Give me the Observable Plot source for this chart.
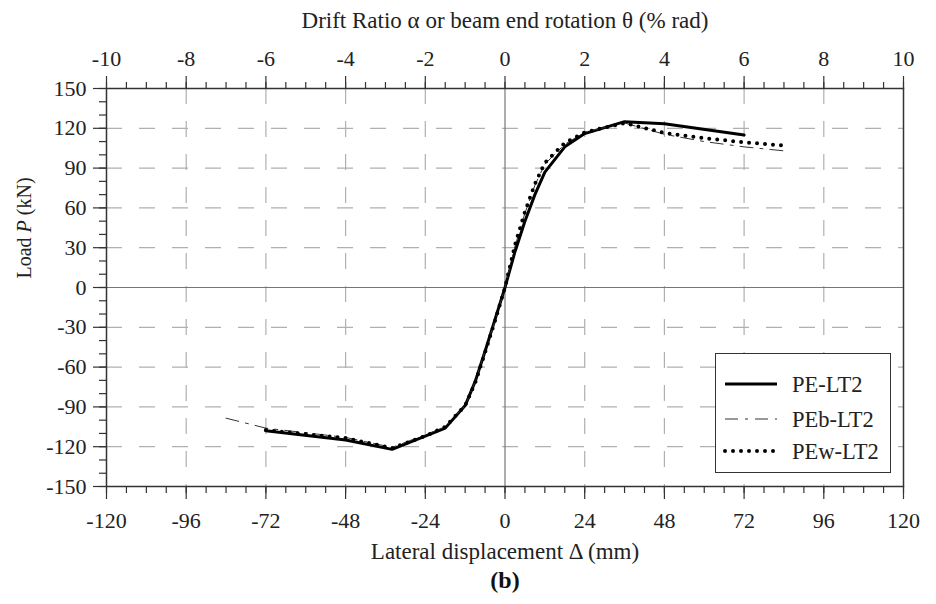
<!DOCTYPE html>
<html><head><meta charset="utf-8">
<script src="https://cdn.jsdelivr.net/npm/d3@7"></script>
<script src="https://cdn.jsdelivr.net/npm/@observablehq/plot@0.6"></script>
<style>
body{margin:0;background:#fff;}
#wrap{position:relative;width:936px;height:604px;}
#legend{position:absolute;left:715px;top:353px;width:176px;height:120px;box-sizing:border-box;border:1.5px solid #333;background:#fff;}
#legend svg{display:block;}
</style></head><body>
<div id="wrap"><div id="chart"></div><div id="legend"></div></div>
<script>
// ---- tick values and labels ----
const xTicks = [-120, -96, -72, -48, -24, 0, 24, 48, 72, 96, 120];
const xTickLabels = ["-120", "-96", "-72", "-48", "-24", "0", "24", "48", "72", "96", "120"];
const driftTickLabels = ["-10", "-8", "-6", "-4", "-2", "0", "2", "4", "6", "8", "10"];
const xMinorTicks = d3.range(-120, 121, 6);
const yTicks = [-150, -120, -90, -60, -30, 0, 30, 60, 90, 120, 150];
const yTickLabels = ["-150", "-120", "-90", "-60", "-30", "0", "30", "60", "90", "120", "150"];
const yMinorTicks = d3.range(-150, 151, 10);

// ---- series ----
const seriesNames = ["PE-LT2", "PEb-LT2", "PEw-LT2"];
const dispPE = [-72, -48, -34, -18, -12, -9, -6, -3, 0, 3, 6, 9, 12, 18, 24, 36, 48, 72];
const loadPE = [-108, -115, -122, -106, -89, -71, -48, -24, 0, 27, 50, 70, 87, 106, 116, 125, 123.5, 115];
const dispPEb = [-84, -72, -48, -34, -24, -18, -12, -9, -6, -3, 0, 3, 6, 9, 12, 18, 24, 36, 48, 60, 72, 84];
const loadPEb = [-98.5, -106, -113, -120.5, -111, -105, -89, -71, -48, -25, 0, 31, 56, 77, 93, 108, 117, 124, 115.5, 110, 106, 103];
const dispPEw = [-72, -48, -34, -24, -18, -12, -9, -6, -3, 0, 3, 6, 9, 12, 18, 24, 36, 48, 60, 72, 84];
const loadPEw = [-107.5, -113.5, -121, -112, -105, -89, -72, -49, -25, 0, 32, 57, 78, 94, 109, 117, 124, 116.5, 112.5, 109.5, 107];

const toRows = (name, xs, ys) => xs.map((d, i) => ({series: name, disp: d, load: ys[i]}));
const rowsPE = toRows(seriesNames[0], dispPE, loadPE);
const rowsPEb = toRows(seriesNames[1], dispPEb, loadPEb);
const rowsPEw = toRows(seriesNames[2], dispPEw, loadPEw);

const xGrid = xTicks.filter(d => d !== 0 && Math.abs(d) !== 120);
const yGrid = yTicks.filter(d => d !== 0 && Math.abs(d) !== 150);
const fmtX = d => xTickLabels[xTicks.indexOf(d)];
const fmtDrift = d => driftTickLabels[xTicks.indexOf(d)];
const fmtY = d => yTickLabels[yTicks.indexOf(d)];

const textColor = "#222";
const axisColor = "#333";

const chart = Plot.plot({
  width: 936,
  height: 604,
  marginLeft: 106,
  marginRight: 33,
  marginTop: 88,
  marginBottom: 118,
  style: {fontFamily: "'Liberation Serif', 'Times New Roman', serif", fontSize: "22px", color: textColor, background: "#fff"},
  x: {domain: [-120, 120], label: null},
  y: {domain: [-150, 150], label: null},
  marks: [
    Plot.gridX(xGrid, {stroke: "#b0b0b0", strokeOpacity: 1, strokeWidth: 1.2, strokeDasharray: "16,17"}),
    Plot.gridY(yGrid, {stroke: "#b0b0b0", strokeOpacity: 1, strokeWidth: 1.2, strokeDasharray: "16,17"}),
    Plot.ruleX([0], {stroke: "#777", strokeWidth: 1.2}),
    Plot.ruleY([0], {stroke: "#777", strokeWidth: 1.2}),
    Plot.line(rowsPE, {x: "disp", y: "load", stroke: "#000", strokeWidth: 3, strokeLinejoin: "round"}),
    Plot.line(rowsPEb, {x: "disp", y: "load", stroke: "#333", strokeWidth: 1, strokeDasharray: "13,7,3,7"}),
    Plot.line(rowsPEw, {x: "disp", y: "load", stroke: "#000", strokeWidth: 4, strokeDasharray: "0,8", strokeLinecap: "round"}),
    Plot.frame({stroke: axisColor, strokeWidth: 1.5}),
    // bottom axis
    Plot.axisX(xMinorTicks, {anchor: "bottom", tickSize: 7, fill: "none", stroke: axisColor, strokeWidth: 1.2, label: null}),
    Plot.axisX(xTicks, {anchor: "bottom", tickSize: 13, tickPadding: 13, tickFormat: fmtX, fill: textColor, stroke: axisColor, strokeWidth: 1.2, label: null}),
    // top axis (drift ratio)
    Plot.axisX(xMinorTicks, {anchor: "top", tickSize: 7, fill: "none", stroke: axisColor, strokeWidth: 1.2, label: null}),
    Plot.axisX(xTicks, {anchor: "top", tickSize: 13, tickPadding: 10, tickFormat: fmtDrift, fill: textColor, stroke: axisColor, strokeWidth: 1.2, label: null}),
    // left axis
    Plot.axisY(yMinorTicks, {anchor: "left", tickSize: 7, fill: "none", stroke: axisColor, strokeWidth: 1.2, label: null}),
    Plot.axisY(yTicks, {anchor: "left", tickSize: 13, tickPadding: 7, tickFormat: fmtY, fill: textColor, stroke: axisColor, strokeWidth: 1.2, label: null}),
    // titles
    Plot.text(["Drift Ratio α or beam end rotation θ (% rad)"], {frameAnchor: "top", lineAnchor: "bottom", dy: -61, fontSize: 23, fill: textColor}),
    Plot.text(["Lateral displacement Δ (mm)"], {frameAnchor: "bottom", lineAnchor: "bottom", dy: 72, fontSize: 23, fill: textColor}),
    Plot.text(["(b)"], {frameAnchor: "bottom", lineAnchor: "bottom", dy: 101, fontSize: 24, fontWeight: "bold", fill: "#111"}),
    Plot.text(["Load P (kN)"], {frameAnchor: "left", lineAnchor: "bottom", rotate: -90, dx: -76, dy: -9, fontSize: 20, fill: textColor})
  ]
});
document.getElementById("chart").appendChild(chart);

// italic P in the y label
chart.querySelectorAll("text").forEach(t => {
  if (t.textContent === "Load P (kN)") {
    t.innerHTML = 'Load <tspan font-style="italic">P</tspan> (kN)';
  }
});

// legend
const legendRows = [
  {name: seriesNames[0], y: 30, stroke: "#000", width: 3, dash: null, cap: "butt"},
  {name: seriesNames[1], y: 65, stroke: "#333", width: 1, dash: "13,7,3,7", cap: "butt"},
  {name: seriesNames[2], y: 97, stroke: "#000", width: 4, dash: "0,8", cap: "round"}
];
const lsvg = d3.create("svg").attr("width", 173).attr("height", 117)
  .style("font-family", "'Liberation Serif', 'Times New Roman', serif").style("font-size", "22.5px");
legendRows.forEach(r => {
  lsvg.append("line").attr("x1", 9).attr("x2", 61).attr("y1", r.y).attr("y2", r.y)
    .attr("stroke", r.stroke).attr("stroke-width", r.width)
    .attr("stroke-dasharray", r.dash).attr("stroke-linecap", r.cap);
  lsvg.append("text").attr("x", 76).attr("y", r.y + 8).attr("fill", textColor).text(r.name);
});
document.getElementById("legend").appendChild(lsvg.node());
</script>
</body></html>
